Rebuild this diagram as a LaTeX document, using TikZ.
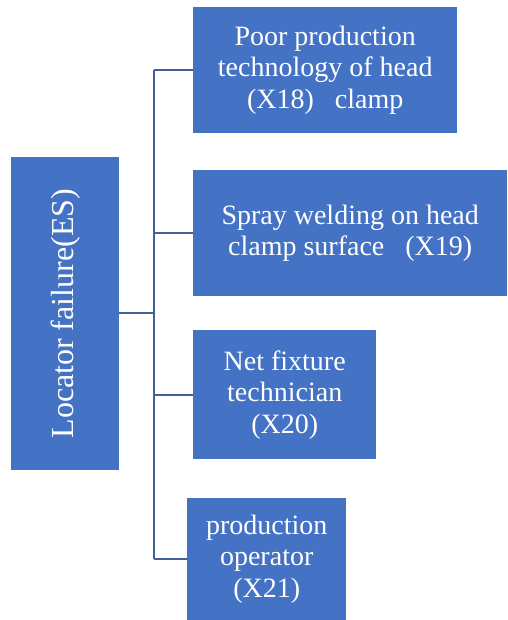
\documentclass[tikz,border=0pt]{standalone}
\usepackage{fontspec}
\setmainfont{Liberation Serif}
\usepackage{tikz}
\usetikzlibrary{
  positioning,
  calc
}
\definecolor{boxcolor}{RGB}{68, 114, 196}
\definecolor{linkcolor}{RGB}{65, 98, 152}
\tikzset{
causetext/.style={
  align=center,
  font=\fontsize{28}{31.5}\selectfont,
  text=white
},
causebox/.style={
  rectangle,
  fill=boxcolor,
  anchor=north west,
  inner sep=0pt,
  causetext
},
link/.style={
  draw=linkcolor,
  line width=2pt
}
}
\begin{document}
\begin{tikzpicture}[x=1pt, y=-1pt]
    \useasboundingbox (0,0) rectangle (507,620);

    % Root and its causes
    \node[causebox, minimum width=108pt, minimum height=313pt, font=\fontsize{32}{36}\selectfont] (es) at (11,157) {\rotatebox{90}{Locator failure(ES)}};
    \node[causebox, minimum width=264pt, minimum height=126pt] (x18) at (193,7) {Poor production\\technology of head\\(X18)\ \ \ clamp};
    \node[causebox, minimum width=314pt, minimum height=126pt] (x19) at (193,170) {Spray welding on head\\clamp surface\ \ \ (X19)};
    \node[causebox, minimum width=183pt, minimum height=129pt] (x20) at (193,330) {Net fixture\\technician\\(X20)};
    \node[causebox, minimum width=159pt, minimum height=122pt] (x21) at (187,498) {production\\operator\\(X21)};

    % Tree connectors
    \coordinate (jt) at (154,313);
    \draw[link] (es.east |- jt) -- (jt);
    \draw[link] (jt |- x18.west) -- (jt |- x21.west);
    \foreach \b in {x18, x19, x20, x21}
      \draw[link] (jt |- \b.west) -- (\b.west);

\end{tikzpicture}
\end{document}
